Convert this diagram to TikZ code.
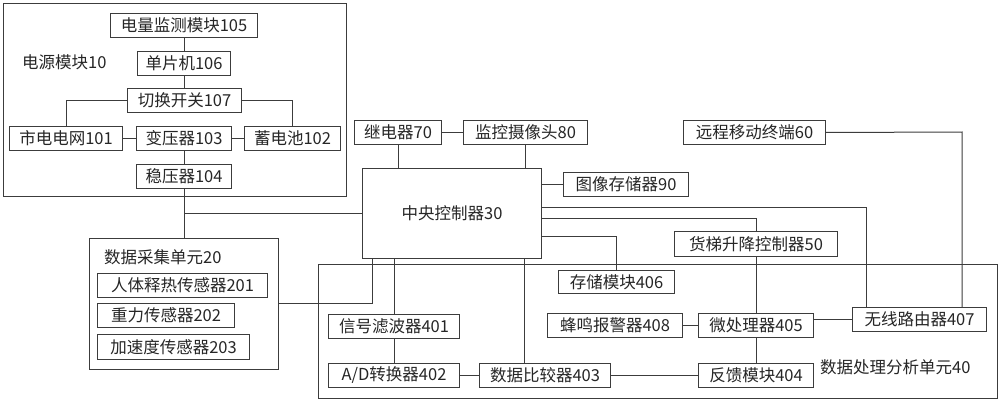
\documentclass[tikz,border=0pt]{standalone}
\usepackage{fontspec}
\setmainfont{Noto Sans CJK SC}
\definecolor{ln}{HTML}{3C3C3C}
\definecolor{tx}{HTML}{262626}
\tikzset{
  bx/.style={draw=ln, line width=1pt, inner sep=0pt, text=tx, font=\fontsize{16.5}{16.5}\selectfont, anchor=north west},
  grp/.style={draw=ln, line width=1pt, inner sep=0pt, anchor=north west},
  lbl/.style={inner sep=0pt, text=tx, font=\fontsize{16.5}{16.5}\selectfont, anchor=west},
  wire/.style={draw=ln, line width=1pt}
}
\newcommand{\bxat}[6]{\node[bx, minimum width=#4-#2, minimum height=#5-#3] (#1) at (#2,#3) {#6};}
\newcommand{\grpat}[5]{\node[grp, minimum width=#4-#2, minimum height=#5-#3] (#1) at (#2,#3) {};}
\begin{document}
\begin{tikzpicture}[x=1pt,y=-1pt]
\fill[white] (0,0) rectangle (1000,401);
\useasboundingbox (0,0) rectangle (1000,401);
% groups
\grpat{pm}{3}{3}{346}{196}
\grpat{daq}{89}{238}{278}{369}
\grpat{dpu}{318}{264}{997}{398}
\node[lbl] (lpm) at (22,62) {电源模块10};
\node[lbl] (ldaq) at (104,257) {数据采集单元20};
\node[lbl] (ldpu) at (820,367) {数据处理分析单元40};
% power module
\bxat{b105}{110}{13}{257}{37}{电量监测模块105}
\bxat{b106}{137}{51}{230}{75}{单片机106}
\bxat{b107}{127}{88}{241}{112}{切换开关107}
\bxat{b101}{9}{126}{122}{150}{市电电网101}
\bxat{b103}{136}{126}{231}{150}{变压器103}
\bxat{b102}{244}{126}{340}{150}{蓄电池102}
\bxat{b104}{136}{164}{231}{188}{稳压器104}
% data acquisition
\bxat{b201}{97}{273}{267}{297}{人体释热传感器201}
\bxat{b202}{97}{303}{234}{327}{重力传感器202}
\bxat{b203}{97}{334}{249}{359}{加速度传感器203}
% center
\bxat{b70}{354}{120}{441}{144}{继电器70}
\bxat{b80}{463}{120}{587}{144}{监控摄像头80}
\bxat{b30}{362}{168}{541}{258}{中央控制器30}
\bxat{b90}{563}{172}{688}{196}{图像存储器90}
\bxat{b60}{683}{120}{825}{144}{远程移动终端60}
\bxat{b50}{674}{231}{837}{256}{货梯升降控制器50}
% data processing
\bxat{b406}{558}{270}{674}{293}{存储模块406}
\bxat{b401}{328}{314}{459}{338}{信号滤波器401}
\bxat{b402}{328}{363}{459}{387}{A/D转换器402}
\bxat{b403}{479}{363}{610}{387}{数据比较器403}
\bxat{b404}{698}{363}{813}{387}{反馈模块404}
\bxat{b408}{547}{313}{682}{337}{蜂鸣报警器408}
\bxat{b405}{698}{313}{813}{337}{微处理器405}
\bxat{b407}{852}{307}{986}{331}{无线路由器407}
% helper coordinates
\coordinate (c1) at (372,303);
\coordinate (c2) at (616,236);
\coordinate (c3) at (756,218);
\coordinate (c4) at (866,207);
\coordinate (c5) at (962,132);
\coordinate (c6) at (524,0);
\coordinate (c7) at (184,0);
\coordinate (c8) at (0,319);
% power module wires
\draw[wire] (c7 |- b105.south) -- (c7 |- b106.north);
\draw[wire] (c7 |- b106.south) -- (c7 |- b107.north);
\draw[wire] (b107.west) -| (b101.north);
\draw[wire] (b107.east) -| (b102.north);
\draw[wire] (b101.east) -- (b103.west);
\draw[wire] (b103.east) -- (b102.west);
\draw[wire] (c7 |- b103.south) -- (c7 |- b104.north);
\draw[wire] (c7 |- b104.south) -- (c7 |- daq.north);
\draw[wire] (c7 |- b30.west) -- (b30.west);
% data acquisition to controller
\draw[wire] (c1 -| daq.east) -- (c1) -- (c1 |- b30.south);
% controller top
\draw[wire] (b70.east) -- (b80.west);
\draw[wire] (b70.south) -- (b70.south |- b30.north);
\draw[wire] (b80.south) -- (b80.south |- b30.north);
\draw[wire] (b90.west) -- (b90.west -| b30.east);
% controller right
\draw[wire] (c2 -| b30.east) -- (c2) -- (c2 |- b406.north);
\draw[wire] (c3 -| b30.east) -- (c3) -- (c3 |- b50.north);
\draw[wire] (c4 -| b30.east) -- (c4) -- (c4 |- b407.north);
\draw[wire] (b60.east) -- (c5) -- (c5 |- b407.north);
% controller bottom
\draw[wire] (b401.north) -- (b401.north |- b30.south);
\draw[wire] (c6 |- b30.south) -- (c6 |- b403.north);
% processing chain
\draw[wire] (b401.south) -- (b402.north);
\draw[wire] (b402.east) -- (b403.west);
\draw[wire] (b403.east) -- (b404.west);
\draw[wire] (c3 |- b404.north) -- (c3 |- b405.south);
\draw[wire] (c3 |- b50.south) -- (c3 |- b405.north);
\draw[wire] (b405.west) -- (b408.east);
\draw[wire] (c8 -| b405.east) -- (c8 -| b407.west);
\end{tikzpicture}
\end{document}
